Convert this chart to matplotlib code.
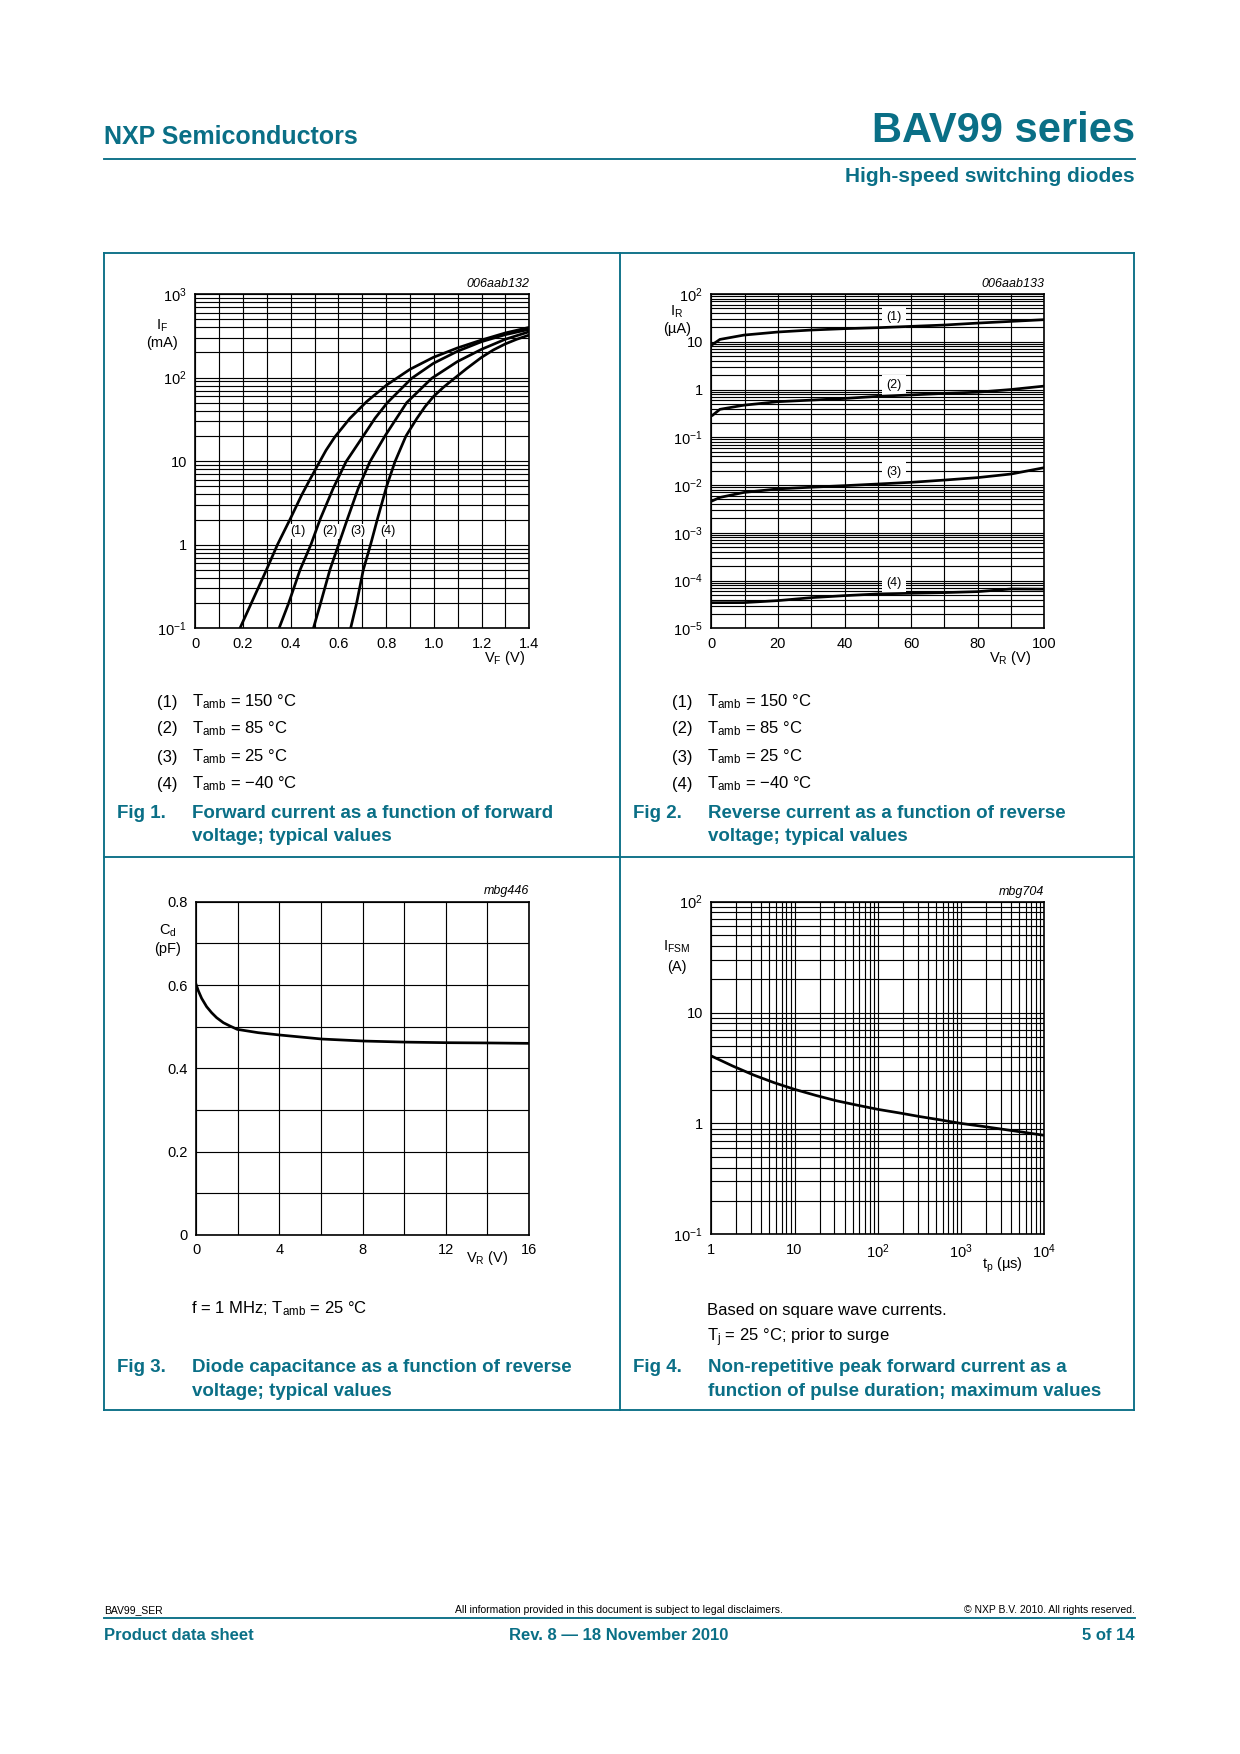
import numpy as np
import matplotlib
matplotlib.use('Agg')
import matplotlib.pyplot as plt
from matplotlib.lines import Line2D
from matplotlib.ticker import LogLocator, NullFormatter

# ---- data ----
# Fig 1: forward current IF (mA) vs VF (V)
vf1 = [0.187, 0.298, 0.345, 0.397, 0.446, 0.48, 0.511, 0.548, 0.585, 0.648, 0.718, 0.802, 0.900, 0.998, 1.098, 1.200, 1.299, 1.4]
if1 = [0.1, 0.499, 1.01, 2.01, 3.94, 6.0, 8.7, 13.5, 19.5, 32.5, 51.5, 81.5, 125.6, 174.7, 225.8, 281.6, 341.6, 399]
vf2 = [0.351, 0.391, 0.439, 0.485, 0.523, 0.578, 0.632, 0.704, 0.753, 0.805, 0.907, 0.998, 1.098, 1.200, 1.299, 1.4]
if2 = [0.1, 0.199, 0.499, 1.01, 2.01, 4.73, 9.86, 20.0, 32.5, 50.1, 98, 148, 206, 269, 326, 378]
vf3 = [0.495, 0.525, 0.564, 0.601, 0.637, 0.683, 0.732, 0.795, 0.886, 0.991, 1.098, 1.200, 1.299, 1.4]
if3 = [0.1, 0.199, 0.499, 1.01, 2.01, 4.73, 9.86, 20.0, 50.1, 98, 155, 218, 287, 354]
vf4 = [0.651, 0.676, 0.704, 0.735, 0.763, 0.802, 0.837, 0.883, 0.928, 0.963, 0.998, 1.040,
       1.081, 1.137, 1.200, 1.249, 1.299, 1.347, 1.4]
if4 = [0.1, 0.199, 0.499, 1.01, 2.01, 5.0, 9.86, 20.0, 32.2, 44.9, 59.2, 76.5,
       95.3, 127.9, 174.7, 213.8, 252.5, 287, 323]
fig1_curves = [(vf1, if1), (vf2, if2), (vf3, if3), (vf4, if4)]
fig1_lbl_x = [0.432, 0.562, 0.681, 0.806]
fig1_lbl_y = 1.44

# Fig 2: reverse current IR (uA) vs VR (V)
vr = [0.4, 2.6, 9.8, 20, 30, 40, 50, 60, 70, 80, 90, 100]
ir1 = [8.8, 11.2, 13.8, 16.0, 17.6, 18.8, 19.7, 21.0, 22.4, 24.6, 26.7, 29.0]
ir2 = [0.29, 0.385, 0.47, 0.556, 0.60, 0.65, 0.72, 0.77, 0.83, 0.88, 1.0, 1.18]
ir3 = [0.0047, 0.0055, 0.0070, 0.0083, 0.0090, 0.0097, 0.0105, 0.0114, 0.0127, 0.0143, 0.017, 0.0231]
ir4 = [3.44e-5, 3.44e-5, 3.45e-5, 3.8e-5, 4.38e-5, 4.83e-5, 5.24e-5, 5.41e-5, 5.59e-5, 5.86e-5, 6.66e-5, 6.6e-5]
fig2_curves = [ir1, ir2, ir3, ir4]
fig2_lbl_x = 54.8
fig2_lbl_y = [32.4, 1.24, 0.019, 8.75e-5]

# Fig 3: diode capacitance Cd (pF) vs VR (V)
vr3 = [0, 0.096, 0.257, 0.497, 0.737, 0.978, 1.30, 1.62, 1.97, 2.98, 4.02, 6.03, 8.03, 10.04, 12.04, 13.96, 16]
cd = [0.6, 0.5864, 0.568, 0.548, 0.5336, 0.5216, 0.5096, 0.5016, 0.4936, 0.4856, 0.48, 0.4704,
      0.4656, 0.463, 0.4616, 0.461, 0.46]

# Fig 4: IFSM (A) vs tp (us)
tp = [1, 1.8, 3.2, 5.7, 10, 18, 32, 57, 100, 180, 320, 570, 1000, 1800, 3200, 5700, 10000]
ifsm = [4.06, 3.30, 2.74, 2.33, 2.03, 1.79, 1.60, 1.46, 1.34, 1.245, 1.153, 1.075, 1.0,
        0.942, 0.885, 0.831, 0.781]

legend_rows = ['150 °C', '85 °C', '25 °C', '−40 °C']

W, H = 1240, 1754
TEAL = '#0a6f86'

plt.rcParams['font.family'] = ['Liberation Sans', 'DejaVu Sans']
plt.rcParams['mathtext.default'] = 'regular'

fig = plt.figure(figsize=(W / 150, H / 150), dpi=150)


def box(l, t, r, b):
    ax = fig.add_axes([l / W, 1 - b / H, (r - l) / W, (b - t) / H])
    for s in ax.spines.values():
        s.set_linewidth(0.8)
    ax.set_axisbelow(True)
    ax.tick_params(which='both', length=0, labelsize=7, pad=4)
    return ax


def txt(x, y, s, **kw):
    kw.setdefault('va', 'center')
    fig.text(x / W, 1 - y / H, s, **kw)


def line(x1, y1, x2, y2, lw=0.9, color=TEAL):
    fig.add_artist(Line2D([x1 / W, x2 / W], [1 - y1 / H, 1 - y2 / H], color=color, lw=lw))


def loggrid(ax, axis):
    a = ax.xaxis if axis == 'x' else ax.yaxis
    a.set_minor_locator(LogLocator(base=10, subs=range(2, 10), numticks=20))
    a.set_minor_formatter(NullFormatter())


GRID = dict(color='black', lw=0.55)
CURVE = dict(color='black', lw=1.3, zorder=3, solid_joinstyle='round')

# ---- header / footer ----
txt(104, 137, 'NXP Semiconductors', color=TEAL, fontsize=12, fontweight='bold')
txt(1135, 131, 'BAV99 series', color=TEAL, fontsize=20, fontweight='bold', ha='right')
line(104, 159, 1135, 159)
txt(1135, 176, 'High-speed switching diodes', color=TEAL, fontsize=10, fontweight='bold', ha='right')

txt(104, 1610, 'BAV99_SER', fontsize=5)
txt(619, 1610, 'All information provided in this document is subject to legal disclaimers.', fontsize=5, ha='center')
txt(1135, 1610, '© NXP B.V. 2010. All rights reserved.', fontsize=5, ha='right')
line(104, 1618, 1135, 1618)
txt(104, 1636, 'Product data sheet', color=TEAL, fontsize=8, fontweight='bold')
txt(619, 1636, 'Rev. 8 — 18 November 2010', color=TEAL, fontsize=8, fontweight='bold', ha='center')
txt(1135, 1636, '5 of 14', color=TEAL, fontsize=8, fontweight='bold', ha='right')

# ---- frame ----
line(104, 253, 1134, 253)
line(104, 857, 1134, 857)
line(104, 1410, 1134, 1410)
line(104, 253, 104, 1410)
line(619.5, 253, 619.5, 1410)
line(1134, 253, 1134, 1410)

# ---- Fig 1 ----
ax1 = box(195.3, 294, 529.3, 628.3)
ax1.set_yscale('log')
ax1.set_xlim(0, 1.4)
ax1.set_ylim(0.1, 1000)
ax1.set_xticks(np.round(np.arange(0, 1.41, 0.1), 1))
ax1.set_xticklabels(['0', '', '0.2', '', '0.4', '', '0.6', '', '0.8', '', '1.0', '', '1.2', '', '1.4'])
ax1.set_yticks([0.1, 1, 10, 100, 1000])
ax1.set_yticklabels(['$10^{-1}$', '1', '10', '$10^{2}$', '$10^{3}$'])
loggrid(ax1, 'y')
ax1.grid(which='both', **GRID)
for x, y in fig1_curves:
    ax1.plot(x, y, **CURVE)
for i, lx in enumerate(fig1_lbl_x):
    ax1.text(lx, fig1_lbl_y, '(%d)' % (i + 1), fontsize=6, ha='center', va='center', zorder=2,
             bbox=dict(boxstyle='square,pad=0.15', fc='white', ec='none'))
txt(529, 284, '006aab132', fontsize=6, style='italic', ha='right')
txt(161.7, 326, '$I_F$', fontsize=7, ha='center')
txt(161.7, 343, '(mA)', fontsize=7, ha='center')
txt(525, 658, '$V_F$ (V)', fontsize=7, ha='right')

# ---- Fig 2 ----
ax2 = box(711.3, 294, 1044.3, 628.3)
ax2.set_yscale('log')
ax2.set_xlim(0, 100)
ax2.set_ylim(1e-5, 100)
ax2.set_xticks(range(0, 101, 10))
ax2.set_xticklabels(['0', '', '20', '', '40', '', '60', '', '80', '', '100'])
ax2.set_yticks([1e-5, 1e-4, 1e-3, 1e-2, 1e-1, 1, 10, 100])
ax2.set_yticklabels(['$10^{-5}$', '$10^{-4}$', '$10^{-3}$', '$10^{-2}$', '$10^{-1}$', '1', '10', '$10^{2}$'])
loggrid(ax2, 'y')
ax2.grid(which='both', **GRID)
for i, y in enumerate(fig2_curves):
    ax2.plot(vr, y, **CURVE)
    ax2.text(fig2_lbl_x, fig2_lbl_y[i], '(%d)' % (i + 1), fontsize=6, ha='center', va='center', zorder=2,
             bbox=dict(boxstyle='square,pad=0.35', fc='white', ec='none'))
txt(1044, 284, '006aab133', fontsize=6, style='italic', ha='right')
txt(677, 312, '$I_R$', fontsize=7, ha='center')
txt(677, 329, '(µA)', fontsize=7, ha='center')
txt(1031, 658, '$V_R$ (V)', fontsize=7, ha='right')

# ---- Fig 3 ----
ax3 = box(196.3, 901.7, 529, 1235)
ax3.set_xlim(0, 16)
ax3.set_ylim(0, 0.8)
ax3.set_xticks(range(0, 17, 2))
ax3.set_xticklabels(['0', '', '4', '', '8', '', '12', '', '16'])
ax3.set_yticks(np.round(np.arange(0, 0.81, 0.1), 1))
ax3.set_yticklabels(['0', '', '0.2', '', '0.4', '', '0.6', '', '0.8'])
ax3.grid(which='major', **GRID)
ax3.plot(vr3, cd, **CURVE)
txt(529, 891, 'mbg446', fontsize=6, style='italic', ha='right')
txt(168, 931, '$C_d$', fontsize=7, ha='center')
txt(168, 949, '(pF)', fontsize=7, ha='center')
txt(487, 1258, '$V_R$ (V)', fontsize=7, ha='center')

# ---- Fig 4 ----
ax4 = box(711.3, 901.7, 1044.3, 1234.3)
ax4.set_xscale('log')
ax4.set_yscale('log')
ax4.set_xlim(1, 1e4)
ax4.set_ylim(0.1, 100)
ax4.set_xticks([1, 10, 100, 1000, 10000])
ax4.set_xticklabels(['1', '10', '$10^{2}$', '$10^{3}$', '$10^{4}$'])
ax4.set_yticks([0.1, 1, 10, 100])
ax4.set_yticklabels(['$10^{-1}$', '1', '10', '$10^{2}$'])
loggrid(ax4, 'x')
loggrid(ax4, 'y')
ax4.grid(which='both', **GRID)
ax4.plot(tp, ifsm, **CURVE)
txt(1044, 892, 'mbg704', fontsize=6, style='italic', ha='right')
txt(677, 947, '$I_{FSM}$', fontsize=7, ha='center')
txt(677, 967, '(A)', fontsize=7, ha='center')
txt(1002, 1265, '$t_p$ (µs)', fontsize=7, ha='center')

# ---- notes and captions ----
rows_y = [702, 729, 757, 784]
for x0 in (157, 672):
    for i, y in enumerate(rows_y):
        txt(x0, y, '(%d)' % (i + 1), fontsize=8)
        txt(x0 + 35, y, '$T_{amb}$ = ' + legend_rows[i], fontsize=8)

CAP = dict(color=TEAL, fontsize=9, fontweight='bold')
txt(117, 813, 'Fig 1.', **CAP)
txt(192, 813, 'Forward current as a function of forward', **CAP)
txt(192, 836, 'voltage; typical values', **CAP)
txt(633, 813, 'Fig 2.', **CAP)
txt(708, 813, 'Reverse current as a function of reverse', **CAP)
txt(708, 836, 'voltage; typical values', **CAP)

txt(191, 1309, 'f = 1 MHz; $T_{amb}$ = 25 °C', fontsize=8)
txt(117, 1368, 'Fig 3.', **CAP)
txt(192, 1368, 'Diode capacitance as a function of reverse', **CAP)
txt(192, 1392, 'voltage; typical values', **CAP)

txt(707, 1311, 'Based on square wave currents.', fontsize=8)
txt(707, 1338, '$T_j$ = 25 °C; prior to surge', fontsize=8)
txt(633, 1368, 'Fig 4.', **CAP)
txt(708, 1368, 'Non-repetitive peak forward current as a', **CAP)
txt(708, 1392, 'function of pulse duration; maximum values', **CAP)

fig.savefig('out.png', dpi=150)
